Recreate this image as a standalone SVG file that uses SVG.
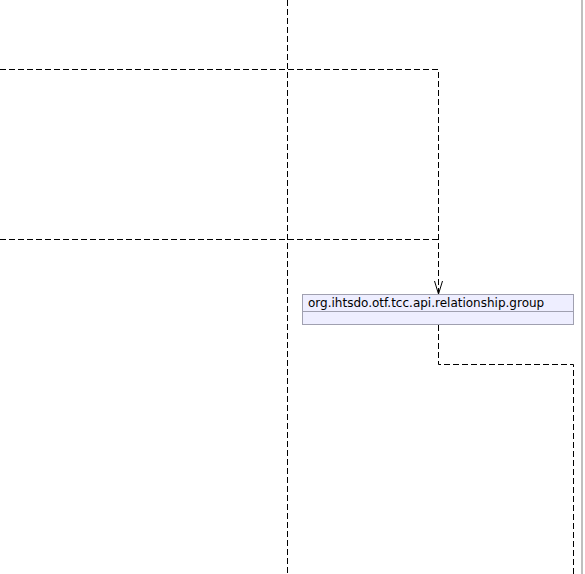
<svg xmlns="http://www.w3.org/2000/svg" width="585" height="574" viewBox="0 0 585 574">
<style>
.c{fill:none;stroke:#000;stroke-width:1;stroke-dasharray:6,3}
.n{fill:#EEEEFF;stroke:#A0A0B0;stroke-width:1}
.t{font-family:"DejaVu Sans",sans-serif;font-size:12px;fill:#000}
</style>
<rect width="585" height="574" fill="#fff"/>
<line x1="582" y1="0" x2="582" y2="574" stroke="#AAAAAA" stroke-width="1.5"/>
<g id="connectors">
<path class="c" d="M287.5,0 V574"/>
<path class="c" d="M0,69.5 H438.5 V293"/>
<path class="c" d="M0,239.5 H438.5"/>
<path class="c" d="M438.5,325 V364.5 H573.5 V574"/>
<path d="M434.5,281 L438.5,294 L442.5,281" fill="none" stroke="#000" stroke-width="1"/>
</g>
<g id="node-relationship-group">
<rect class="n" x="302.5" y="294.5" width="271" height="30"/>
<line x1="302.5" y1="311.5" x2="573.5" y2="311.5" stroke="#A0A0B0"/>
<text class="t" x="308" y="307">org.ihtsdo.otf.tcc.api.relationship.group</text>
</g>
</svg>
